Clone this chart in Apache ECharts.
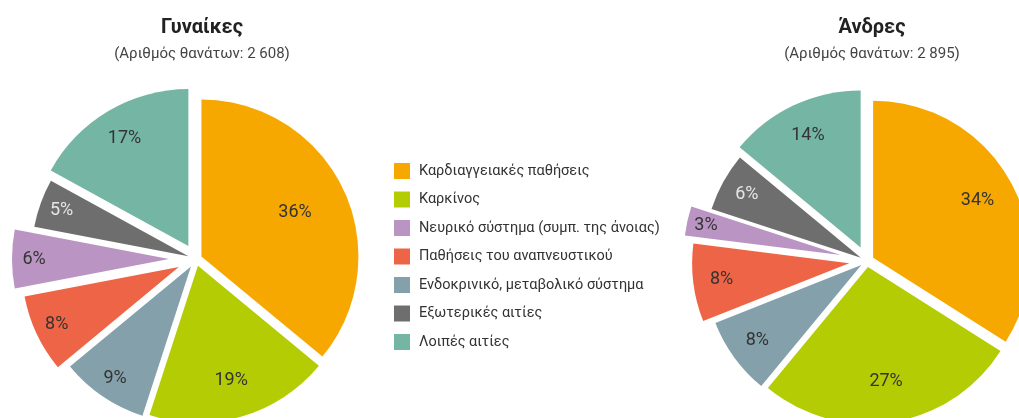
<!DOCTYPE html>
<html>
<head>
<meta charset="utf-8">
<script src="https://cdn.jsdelivr.net/npm/echarts@6/dist/echarts.min.js"></script>
<style>
  html, body { margin: 0; padding: 0; background: #fff; }
  #chart { width: 1019px; height: 418px; }
</style>
</head>
<body>
<div id="chart"></div>
<script>
// slices in clockwise order from 12 o'clock
const causes = [
    'Καρδιαγγειακές παθήσεις',
    'Καρκίνος',
    'Ενδοκρινικό, μεταβολικό σύστημα',
    'Παθήσεις του αναπνευστικού',
    'Νευρικό σύστημα (συμπ. της άνοιας)',
    'Εξωτερικές αιτίες',
    'Λοιπές αιτίες'
];
const legendOrder = [
    'Καρδιαγγειακές παθήσεις',
    'Καρκίνος',
    'Νευρικό σύστημα (συμπ. της άνοιας)',
    'Παθήσεις του αναπνευστικού',
    'Ενδοκρινικό, μεταβολικό σύστημα',
    'Εξωτερικές αιτίες',
    'Λοιπές αιτίες'
];
const women = [36, 19, 9, 8, 6, 5, 17];
const men = [34, 27, 8, 8, 3, 6, 14];
const titles = ['Γυναίκες', 'Άνδρες'];
const subtitles = ['(Αριθμός θανάτων: 2 608)', '(Αριθμός θανάτων: 2 895)'];

const colors = ['#F7A800', '#B4CC04', '#84A0AA', '#EE6446', '#BA95C4', '#6E6E6E', '#74B5A3'];
const labelColors = ['#333', '#333', '#333', '#333', '#333', '#e6e6e6', '#333'];
const FONT = 'Roboto';
const R = 157;

const pies = [
    {values: women, center: [196, 259], explode: [6, 7, 9, 19, 27, 8, 15], labelAt: [0.64, 0.74, 0.84, 0.84, 0.84, 0.84, 0.78]},
    {values: men, center: [867, 261], explode: [7, 6, 7, 18, 27, 7, 15], labelAt: [0.74, 0.72, 0.8, 0.8, 0.86, 0.81, 0.77]}
];

function pieSeries(pie) {
    const total = pie.values.reduce((a, b) => a + b, 0);
    const list = [];
    let acc = 0;
    pie.values.forEach((v, i) => {
        const mid = (acc + v / 2) / total * Math.PI * 2;
        acc += v;
        const c = [
            pie.center[0] + pie.explode[i] * Math.sin(mid),
            pie.center[1] - pie.explode[i] * Math.cos(mid)
        ];
        const base = {
            type: 'pie',
            center: c,
            startAngle: 90,
            clockwise: true,
            silent: true,
            animation: false,
            avoidLabelOverlap: false,
            labelLine: {show: false},
            emphasis: {disabled: true}
        };
        // the slice itself
        list.push(Object.assign({}, base, {
            radius: [0, R],
            label: {show: false},
            data: pie.values.map((w, j) => ({
                name: causes[j],
                value: w,
                itemStyle: {color: j === i ? colors[j] : 'rgba(0,0,0,0)', borderWidth: 0}
            }))
        }));
        // its percentage label, placed at labelAt * R
        const f = pie.labelAt[i];
        list.push(Object.assign({}, base, {
            radius: [(2 * f - 1) * R, R],
            label: {
                show: false,
                position: 'inside',
                formatter: '{c}%',
                fontFamily: FONT,
                fontSize: 18
            },
            data: pie.values.map((w, j) => ({
                name: causes[j],
                value: w,
                itemStyle: {color: 'rgba(0,0,0,0)', borderWidth: 0},
                label: {show: j === i, color: labelColors[j]}
            }))
        }));
    });
    return list;
}

function getOption() {
    return {
        backgroundColor: '#fff',
        title: [
            {text: titles[0], subtext: subtitles[0], left: 197, top: 13, textAlign: 'center', itemGap: 9,
             textStyle: {fontFamily: FONT, fontSize: 20, fontWeight: 'bold', color: '#222'},
             subtextStyle: {fontFamily: FONT, fontSize: 15, color: '#444'}},
            {text: titles[1], subtext: subtitles[1], left: 867, top: 13, textAlign: 'center', itemGap: 9,
             textStyle: {fontFamily: FONT, fontSize: 20, fontWeight: 'bold', color: '#222'},
             subtextStyle: {fontFamily: FONT, fontSize: 15, color: '#444'}}
        ],
        legend: {
            orient: 'vertical',
            left: 389,
            top: 158,
            icon: 'rect',
            itemWidth: 16,
            itemHeight: 16,
            itemGap: 12.5,
            selectedMode: false,
            textStyle: {fontFamily: FONT, fontSize: 14.5, color: '#333', padding: [0, 0, 0, 4]},
            data: legendOrder.map(n => ({name: n, itemStyle: {color: colors[causes.indexOf(n)]}}))
        },
        series: pieSeries(pies[0]).concat(pieSeries(pies[1]))
    };
}

const chart = echarts.init(document.getElementById('chart'), null, {renderer: 'canvas'});
chart.setOption(getOption());
window.addEventListener('resize', () => chart.resize());
</script>
</body>
</html>
